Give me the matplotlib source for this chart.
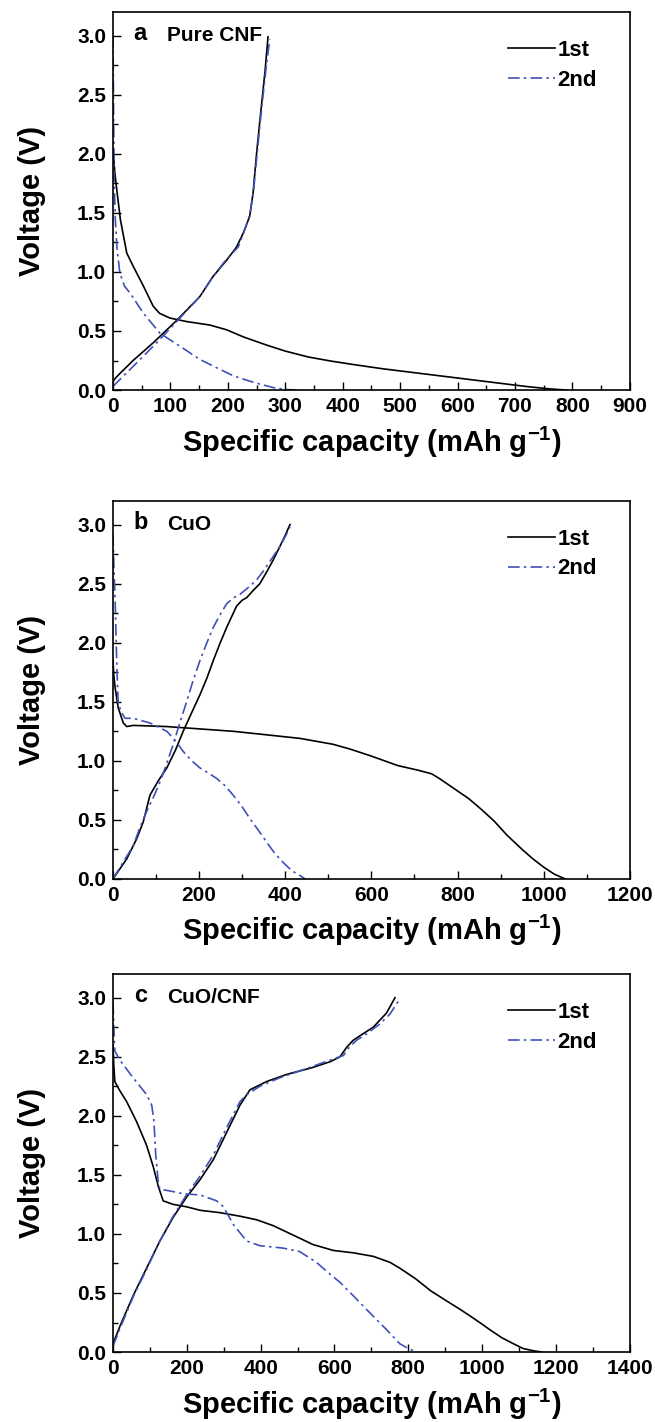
import matplotlib
matplotlib.use('Agg')
import matplotlib.pyplot as plt
from matplotlib.ticker import MultipleLocator, FormatStrFormatter

plt.rcParams['font.family'] = ['Liberation Sans', 'DejaVu Sans']
plt.rcParams['font.weight'] = 'bold'
plt.rcParams['mathtext.fontset'] = 'custom'
plt.rcParams['mathtext.bf'] = 'Liberation Sans:bold'
plt.rcParams['mathtext.rm'] = 'Liberation Sans:bold'
plt.rcParams['mathtext.default'] = 'bf'

# ---- panel a: pure CNF ----
a_dis1_x = [0, 3, 6, 13, 24, 35, 53, 70, 81, 99, 128, 169, 198, 227, 268, 300, 340, 380, 420, 470,
            520, 570, 620, 670, 720, 760, 790]
a_dis1_y = [2.05, 1.85, 1.72, 1.44, 1.16, 1.05, 0.88, 0.71, 0.65, 0.61, 0.58, 0.55, 0.51, 0.45, 0.38,
            0.33, 0.28, 0.245, 0.215, 0.18, 0.15, 0.12, 0.09, 0.06, 0.03, 0.01, 0.0]
a_chg1_x = [0, 4, 12, 35, 70, 111, 151, 174, 198, 215, 227, 238, 244, 250, 256, 265, 270]
a_chg1_y = [0.07, 0.1, 0.14, 0.25, 0.40, 0.59, 0.79, 0.96, 1.10, 1.21, 1.33, 1.47, 1.67, 2.0, 2.29,
            2.71, 2.99]
a_dis2_x = [0, 1, 2, 4, 7, 12, 20, 30, 53, 82, 117, 151, 180, 210, 235, 256, 280, 300, 320]
a_dis2_y = [3.0, 2.4, 1.8, 1.45, 1.2, 0.99, 0.88, 0.82, 0.65, 0.48, 0.37, 0.26, 0.19, 0.12, 0.08,
            0.05, 0.02, 0.005, 0.0]
a_chg2_x = [0, 10, 35, 76, 111, 151, 174, 198, 218, 229, 239, 245, 251, 257, 266, 273]
a_chg2_y = [0.03, 0.08, 0.2, 0.40, 0.58, 0.79, 0.96, 1.11, 1.21, 1.35, 1.5, 1.7, 2.0, 2.3, 2.7, 2.97]

# ---- panel b: CuO ----
b_dis1_x = [0, 2, 5, 12, 24, 32, 47, 125, 202, 279, 357, 434, 511, 550, 600, 661, 709, 740, 758, 790,
            826, 855, 885, 915, 950, 975, 1000, 1025, 1050]
b_dis1_y = [1.85, 1.72, 1.62, 1.45, 1.32, 1.29, 1.30, 1.29, 1.27, 1.25, 1.22, 1.19, 1.14, 1.10, 1.04,
            0.96, 0.92, 0.89, 0.85, 0.77, 0.68, 0.59, 0.49, 0.37, 0.25, 0.17, 0.1, 0.04, 0.0]
b_chg1_x = [0, 15, 32, 55, 70, 86, 105, 125, 145, 163, 183, 202, 218, 233, 248, 264, 287, 300, 310,
            325, 341, 357, 372, 395, 411]
b_chg1_y = [0.0, 0.08, 0.17, 0.34, 0.48, 0.71, 0.83, 0.94, 1.09, 1.25, 1.41, 1.56, 1.70, 1.85, 1.99,
            2.13, 2.31, 2.36, 2.38, 2.44, 2.50, 2.60, 2.70, 2.87, 3.0]
b_dis2_x = [0, 2, 5, 9, 12, 18, 28, 47, 86, 125, 145, 163, 183, 202, 220, 241, 260, 279, 300, 318,
            340, 357, 375, 395, 415, 434, 446]
b_dis2_y = [2.92, 2.65, 2.36, 1.79, 1.50, 1.42, 1.36, 1.36, 1.32, 1.25, 1.17, 1.08, 1.00, 0.94,
            0.90, 0.85, 0.79, 0.71, 0.61, 0.51, 0.40, 0.31, 0.22, 0.14, 0.07, 0.03, 0.0]
b_chg2_x = [0, 20, 47, 62, 78, 95, 109, 125, 140, 155, 171, 186, 202, 218, 233, 249, 264, 280, 295,
            315, 333, 352, 372, 390, 403, 411]
b_chg2_y = [0.0, 0.12, 0.28, 0.43, 0.57, 0.70, 0.82, 0.98, 1.14, 1.32, 1.50, 1.68, 1.85, 2.0, 2.13,
            2.24, 2.33, 2.38, 2.41, 2.47, 2.53, 2.62, 2.73, 2.83, 2.92, 2.98]

# ---- panel c: CuO/CNF ----
c_dis1_x = [0, 2, 5, 19, 37, 64, 91, 109, 123, 136, 163, 199, 236, 290, 344, 389, 434, 488, 542,
            597, 651, 705, 750, 777, 820, 860, 900, 941, 970, 998, 1025, 1054, 1085, 1111, 1140, 1162]
c_dis1_y = [2.6, 2.44, 2.29, 2.21, 2.12, 1.95, 1.75, 1.57, 1.40, 1.28, 1.25, 1.23, 1.20, 1.18,
            1.15, 1.12, 1.07, 0.99, 0.91, 0.86, 0.84, 0.81, 0.76, 0.71, 0.62, 0.52, 0.44, 0.36,
            0.30, 0.24, 0.18, 0.12, 0.07, 0.03, 0.01, 0.0]
c_chg1_x = [0, 19, 55, 91, 127, 163, 199, 236, 272, 308, 344, 371, 416, 470, 542, 590, 615, 633,
            651, 680, 705, 741, 764]
c_chg1_y = [0.07, 0.22, 0.48, 0.71, 0.94, 1.14, 1.31, 1.46, 1.63, 1.86, 2.09, 2.22, 2.29, 2.35,
            2.41, 2.46, 2.50, 2.58, 2.64, 2.70, 2.75, 2.87, 3.0]
c_dis2_x = [0, 3, 5, 19, 55, 91, 105, 111, 116, 123, 127, 160, 190, 236, 281, 299, 326, 362, 398,
            461, 506, 551, 580, 615, 650, 687, 741, 777, 800, 822]
c_dis2_y = [2.96, 2.7, 2.55, 2.47, 2.32, 2.18, 2.09, 1.95, 1.66, 1.43, 1.38, 1.36, 1.34, 1.33,
            1.28, 1.23, 1.08, 0.94, 0.90, 0.88, 0.85, 0.76, 0.68, 0.59, 0.48, 0.36, 0.19, 0.07, 0.03, 0.0]
c_chg2_x = [0, 19, 55, 91, 127, 163, 199, 236, 272, 308, 344, 362, 398, 450, 506, 560, 605, 624,
            640, 660, 690, 720, 750, 773]
c_chg2_y = [0.05, 0.2, 0.47, 0.70, 0.94, 1.15, 1.33, 1.49, 1.67, 1.90, 2.12, 2.18, 2.25, 2.32,
            2.38, 2.44, 2.49, 2.51, 2.58, 2.64, 2.70, 2.77, 2.86, 2.97]

panels = [
    ('a', 'Pure CNF', 900, 100, 50, a_dis1_x, a_dis1_y, a_chg1_x, a_chg1_y, a_dis2_x, a_dis2_y, a_chg2_x, a_chg2_y),
    ('b', 'CuO', 1200, 200, 100, b_dis1_x, b_dis1_y, b_chg1_x, b_chg1_y, b_dis2_x, b_dis2_y, b_chg2_x, b_chg2_y),
    ('c', 'CuO/CNF', 1400, 200, 100, c_dis1_x, c_dis1_y, c_chg1_x, c_chg1_y, c_dis2_x, c_dis2_y, c_chg2_x, c_chg2_y),
]

blue = '#3f51b8'
fig = plt.figure(figsize=(6.55, 14.22), dpi=100)
bottoms = [0.7257, 0.3819, 0.0492]

for (letter, name, xmax, xmaj, xmin_, d1x, d1y, c1x, c1y, d2x, d2y, c2x, c2y), bot in zip(panels, bottoms):
    ax = fig.add_axes([0.1725, bot, 0.789, 0.2658])
    ax.plot(d1x, d1y, color='black', lw=1.2, label='1st')
    ax.plot(c1x, c1y, color='black', lw=1.2)
    ax.plot(d2x, d2y, color=blue, lw=1.2, dashes=(7, 2.5, 1.5, 2.5), label='2nd')
    ax.plot(c2x, c2y, color=blue, lw=1.2, dashes=(7, 2.5, 1.5, 2.5))

    ax.set_xlim(0, xmax)
    ax.set_ylim(0, 3.2)
    ax.xaxis.set_major_locator(MultipleLocator(xmaj))
    ax.xaxis.set_minor_locator(MultipleLocator(xmin_))
    ax.yaxis.set_major_locator(MultipleLocator(0.5))
    ax.yaxis.set_minor_locator(MultipleLocator(0.25))
    ax.yaxis.set_major_formatter(FormatStrFormatter('%.1f'))
    ax.tick_params(which='both', direction='in', top=False, right=False, labelsize=15, pad=5)
    ax.tick_params(which='major', length=6, width=1)
    ax.tick_params(which='minor', length=3.5, width=1)
    for lbl in ax.get_xticklabels() + ax.get_yticklabels():
        lbl.set_fontweight('bold')
    for s in ax.spines.values():
        s.set_linewidth(1.2)

    ax.set_ylabel('Voltage (V)', fontsize=21, fontweight='bold', labelpad=22)
    ax.set_xlabel(r'Specific capacity (mAh g$^{-1}$)', fontsize=21, fontweight='bold', labelpad=6)

    ax.text(0.04, 3.02, letter, transform=ax.get_yaxis_transform(), fontsize=17,
            fontweight='bold', va='center', ha='left')
    ax.text(0.105, 3.0, name, transform=ax.get_yaxis_transform(), fontsize=15,
            fontweight='bold', va='center', ha='left')

    ax.legend(loc='upper right', bbox_to_anchor=(0.975, 0.98), frameon=False,
              handlelength=2.1, handletextpad=0.1, labelspacing=0.4,
              prop={'weight': 'bold', 'size': 16})

fig.savefig('out.png', dpi=100)
